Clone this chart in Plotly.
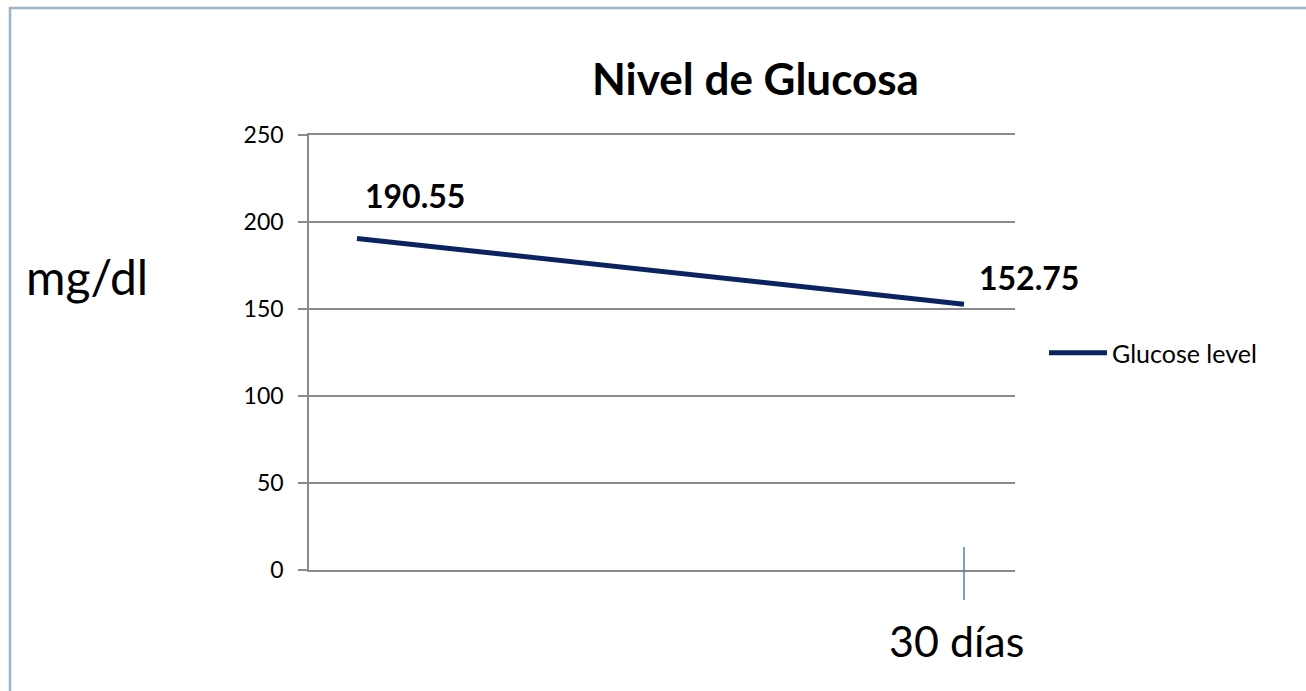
import plotly.graph_objects as go

# Data
days = [0, 30]
glucose = [190.55, 152.75]
series_name = "Glucose level"
x_label = "30 días"
y_label = "mg/dl"
title_text = "Nivel de Glucosa"
y_ticks = [0, 50, 100, 150, 200, 250]

LINE = "#0b2461"
GRID = "#8a8a8a"
FONT = "Lato, Carlito, Calibri, sans-serif"

fig = go.Figure()
fig.add_trace(go.Scatter(
    x=days, y=glucose, mode="lines", name=series_name,
    line=dict(color=LINE, width=5),
))

# data labels
offsets = [(58, 43), (65, 27)]
for (xv, yv), (dx, dy) in zip(zip(days, glucose), offsets):
    fig.add_annotation(x=xv, y=yv, text=f"<b>{yv:.2f}</b>", showarrow=False,
                       xanchor="center", yanchor="middle",
                       xshift=dx, yshift=dy, font=dict(family=FONT, size=32, color="#000"))

# x category label
fig.add_annotation(x=days[-1], y=(570 - 640) / 435, yref="paper", text=x_label, showarrow=False,
                   xanchor="center", yanchor="middle",
                   xshift=-8, font=dict(family=FONT, size=43, color="#000"))
# marker tick at last category
fig.add_shape(type="line", x0=days[-1], x1=days[-1], xref="x", y0=0.053, y1=-0.069, yref="paper",
              line=dict(color="#4f81bd", width=1.5))

# y title
fig.add_annotation(x=(87 - 309) / 706, y=(570 - 276) / 435, xref="paper", yref="paper",
                   text=y_label, showarrow=False, xanchor="center", yanchor="middle",
                   font=dict(family=FONT, size=48, color="#000"))

# title
fig.add_annotation(x=(755 - 309) / 706, y=(570 - 78) / 435, xref="paper", yref="paper",
                   text=f"<b>{title_text}</b>", showarrow=False, xanchor="center", yanchor="middle",
                   font=dict(family=FONT, size=44, color="#000"))

# outer border
fig.add_shape(type="rect", xref="paper", yref="paper",
              x0=(10 - 309) / 706, x1=(1400 - 309) / 706,
              y0=(570 - 800) / 435, y1=(570 - 8) / 435,
              line=dict(color="#9db2cd", width=2.5), layer="below")

fig.update_layout(
    width=1306, height=691,
    margin=dict(l=309, r=291, t=135, b=121),
    plot_bgcolor="white", paper_bgcolor="white",
    font=dict(family=FONT, color="#000"),
    showlegend=True,
    legend=dict(x=(1044 - 309) / 706, y=(570 - 353) / 435, xanchor="left", yanchor="middle",
                font=dict(family=FONT, size=25, color="#000"), bgcolor="rgba(0,0,0,0)",
                itemwidth=58),
    xaxis=dict(range=[-2.37, 32.52], showgrid=False, zeroline=False, showline=True, mirror=True,
               linecolor=GRID, linewidth=1.5, showticklabels=False, ticks=""),
    yaxis=dict(range=[0, 250], tickvals=y_ticks, showgrid=True, gridcolor=GRID, gridwidth=1.5,
               zeroline=False, showline=True, linecolor=GRID, linewidth=1.5,
               ticks="outside", ticklen=9, tickcolor=GRID, tickwidth=1.5,
               ticklabelstandoff=10,
               tickfont=dict(family=FONT, size=23, color="#000")),
)

fig.write_html("out.html", config={"displayModeBar": False},
               post_script="document.body.style.margin='0';document.body.style.overflow='hidden';")
